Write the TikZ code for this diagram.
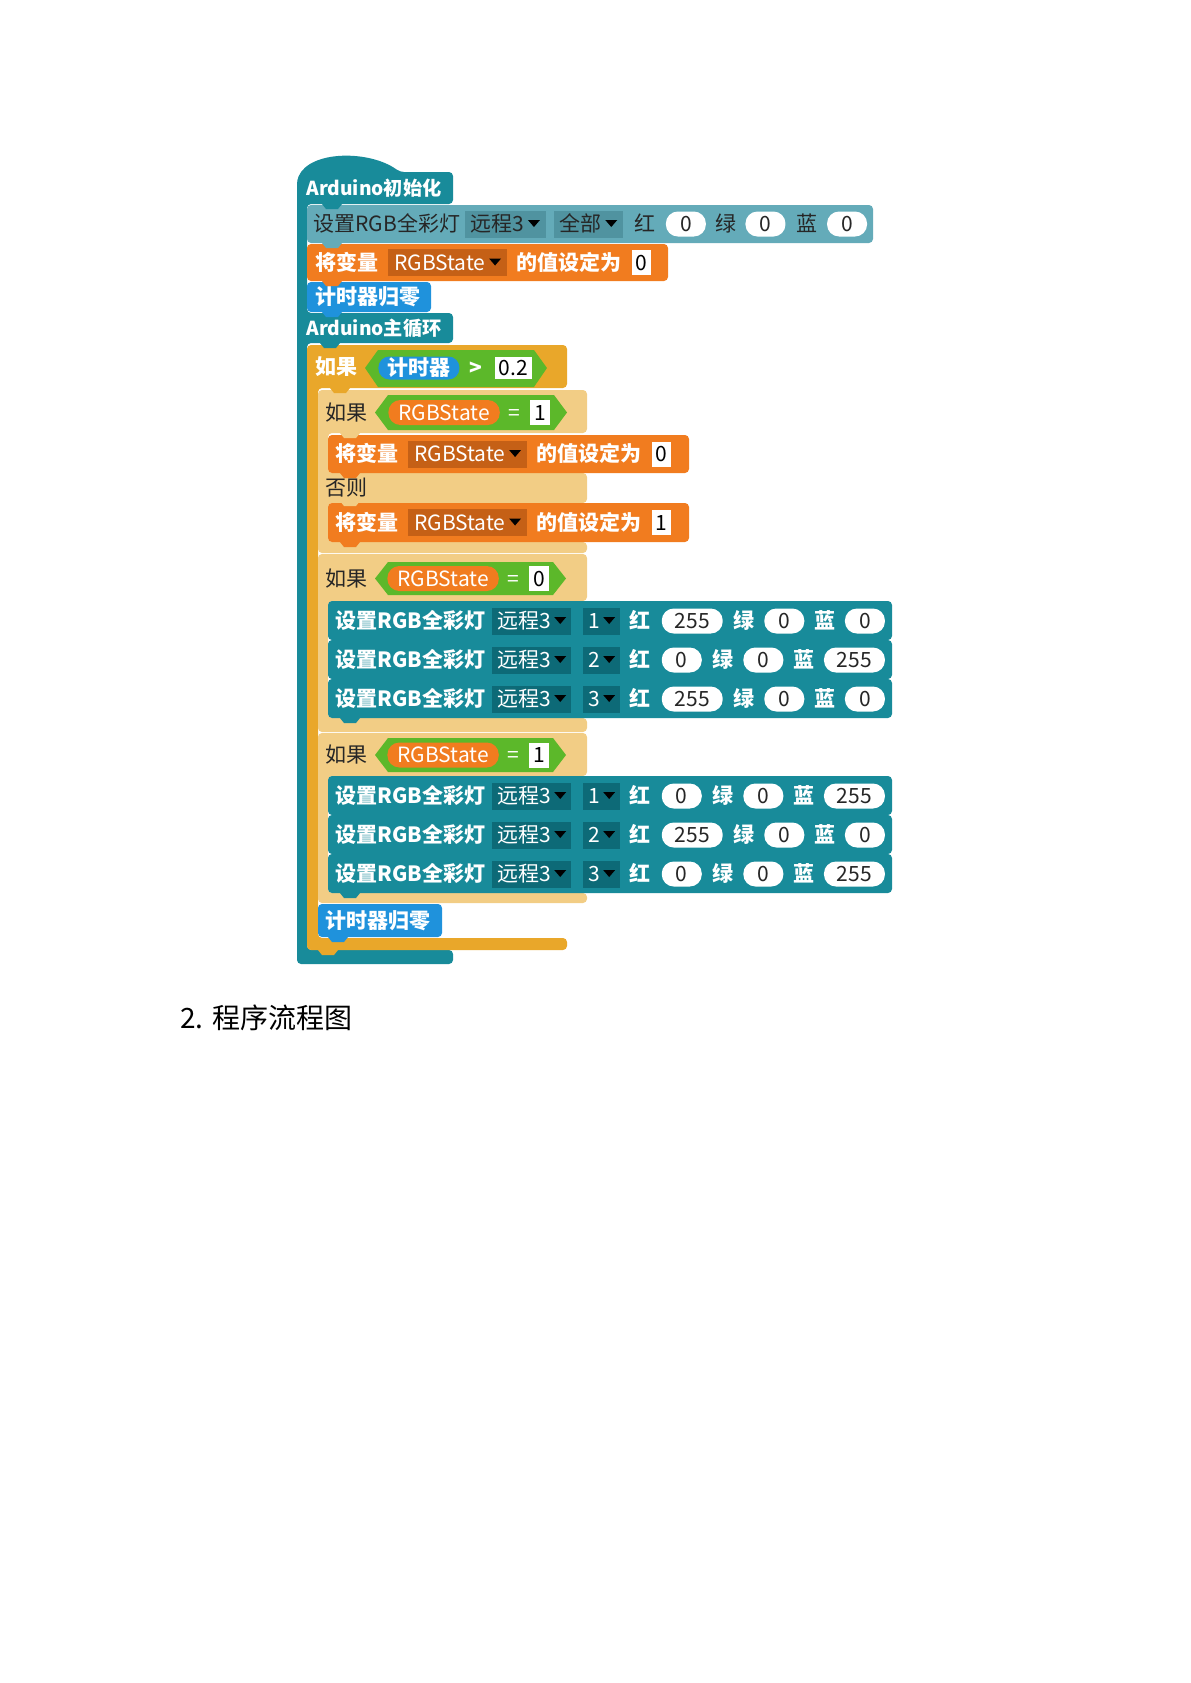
\documentclass[tikz,border=0pt]{standalone}
\usepackage{fontspec}
\setmainfont{Noto Sans CJK SC}
\usetikzlibrary{positioning}

\definecolor{tealmain}{RGB}{24,139,154}
\definecolor{teallight}{RGB}{100,171,185}
\definecolor{tealdd}{RGB}{80,147,160}
\definecolor{tealdark}{RGB}{13,106,119}
\definecolor{orangeblk}{RGB}{241,124,31}
\definecolor{orangedd}{RGB}{197,96,22}
\definecolor{blueblk}{RGB}{31,146,220}
\definecolor{ifouter}{RGB}{233,167,42}
\definecolor{ifinner}{RGB}{242,205,133}
\definecolor{cmpgreen}{RGB}{92,184,42}
\definecolor{inkdark}{RGB}{38,38,38}

\tikzset{
  txt/.style={inner sep=0pt, anchor=west, text height=0.88em, text depth=0.12em, font=\fontsize{10.5}{12}\selectfont},
  wtxt/.style={txt, text=white, font=\fontsize{10.5}{12}\selectfont\bfseries},
  hattxt/.style={wtxt, font=\fontsize{9.6}{12}\selectfont\bfseries},
  dtxt/.style={txt, text=inkdark},
  pill/.style={txt, fill=white, text=inkdark, rounded corners=6pt, minimum height=12.5pt, minimum width=20pt, inner xsep=6.5pt},
  varpill/.style={pill, fill=orangeblk, text=white, inner xsep=5pt},
  timepill/.style={pill, fill=blueblk, text=white, font=\fontsize{10.5}{12}\selectfont\bfseries, minimum height=11.5pt, rounded corners=5.5pt, inner xsep=4.5pt},
  dd/.style={txt, minimum height=13.5pt, inner xsep=3pt},
  nbox/.style={txt, fill=white, text=black, minimum height=12.5pt, inner xsep=2pt},
  blk/.style={rounded corners=2pt},
}

% dropdown arrow
\newcommand{\tri}{\tikz[baseline=0pt]\fill[black] (0pt,5.8pt) -- (6pt,5.8pt) -- (3pt,2.3pt) -- cycle;}
% connection tab under a block
\newcommand{\tab}[3]{\fill[#1] (#2,#3) -- (#2+20,#3) -- (#2+16,#3+5) -- (#2+4,#3+5) -- cycle;}
% one "set RGB" row: name, centre y, led, red, green, blue
\newcommand{\rgbrow}[6]{%
  \fill[tealmain, blk] (328,#2-20) rectangle (892,#2+19);
  \node[wtxt] (#1) at (335,#2) {设置RGB全彩灯};
  \node[dd, fill=tealdark, text=white, inner xsep=2.5pt, right=3pt of #1] (#1port) {远程3\,\tri};
  \node[dd, fill=tealdark, text=white, inner xsep=2.5pt, right=5.5pt of #1port] (#1led) {#3\,\tri};
  \node[wtxt, right=of #1led] (#1r) {红};
  \node[pill, right=5pt of #1r] (#1rv) {#4};
  \node[wtxt, right=5pt of #1rv] (#1g) {绿};
  \node[pill, right=of #1g] (#1gv) {#5};
  \node[wtxt, right=of #1gv] (#1b) {蓝};
  \node[pill, right=of #1b] (#1bv) {#6};
}

\begin{document}
\begin{tikzpicture}[x=0.5pt, y=-0.5pt, node distance=4.5pt]
\useasboundingbox (0,0) rectangle (1190,1683);

% main block with setup and loop
\fill[tealmain, blk] (297,180) .. controls (310,150) and (370,150) .. (400,172) -- (453,172) -- (453,204) -- (307,204) -- (307,313) -- (453,313) -- (453,343) -- (307,343) -- (307,950) -- (453,950) -- (453,964) -- (297,964) -- cycle;
\node[hattxt] (setup) at (306,188) {Arduino初始化};
\node[hattxt] (loop) at (306,328) {Arduino主循环};

% setup part
\fill[teallight, blk] (307,205) rectangle (873,243);
\node[dtxt] (initrgb) at (313,224) {设置RGB全彩灯};
\node[dd, fill=tealdd, text=inkdark, right=2pt of initrgb] (initport) {远程3\,\tri};
\node[dd, fill=tealdd, text=inkdark, right=3.5pt of initport] (initled) {全部\,\tri};
\node[dtxt, right=5pt of initled] (initr) {红};
\node[pill, right=5pt of initr] (initrv) {0};
\node[dtxt, right=4.5pt of initrv] (initg) {绿};
\node[pill, right=4pt of initg] (initgv) {0};
\node[dtxt, right=5pt of initgv] (initb) {蓝};
\node[pill, right=4.5pt of initb] (initbv) {0};
\tab{tealmain}{322}{204}

\fill[orangeblk, blk] (307,244) rectangle (668,281);
\node[wtxt] (initvar) at (315,262.5) {将变量};
\node[dd, fill=orangedd, text=white, right=of initvar] (initvardd) {RGBState\,\tri};
\node[wtxt, right=of initvardd] (initvarto) {的值设定为};
\node[nbox, right=of initvarto] (initvarv) {0};
\tab{teallight}{322}{243}

\fill[blueblk, blk] (307,282) rectangle (431,312);
\node[wtxt] (initreset) at (315,297) {计时器归零};
\tab{orangeblk}{322}{281}
\tab{blueblk}{322}{312}

% loop: if timer > 0.2
\fill[ifouter, blk] (307,345) -- (567,345) -- (567,388) -- (318,388) -- (318,938) -- (567,938) -- (567,950) -- (307,950) -- cycle;
\tab{tealmain}{320}{343}
\node[wtxt] (iftime) at (315,367) {如果};
\fill[cmpgreen] (365,368) -- (378,350) -- (534,350) -- (547,368) -- (534,387) -- (378,387) -- cycle;
\node[timepill] (timer) at (378,368) {计时器};
\node[wtxt, right=of timer] (gt) {>};
\node[nbox, minimum height=11pt, right=6pt of gt] (limit) {0.2};

% if RGBState = 1 ... else
\fill[ifinner, blk] (318,390) -- (587,390) -- (587,433) -- (328,433) -- (328,473) -- (587,473) -- (587,503) -- (328,503) -- (328,542) -- (587,542) -- (587,553) -- (318,553) -- cycle;
\tab{ifouter}{330}{388}
\node[dtxt] (iftoggle) at (325,413) {如果};
\fill[cmpgreen] (375,412.5) -- (388,395) -- (554,395) -- (567,412.5) -- (554,430) -- (388,430) -- cycle;
\node[varpill] (togglevar) at (388,412.5) {RGBState};
\node[txt, text=white, right=4pt of togglevar] (toggleeq) {=};
\node[nbox, right=4.5pt of toggleeq] (togglev) {1};

\fill[orangeblk, blk] (328,435) rectangle (689,473);
\node[wtxt] (seta) at (335,454) {将变量};
\node[dd, fill=orangedd, text=white, right=of seta] (setadd) {RGBState\,\tri};
\node[wtxt, right=of setadd] (setato) {的值设定为};
\node[nbox, right=of setato] (setav) {0};
\tab{ifinner}{340}{433}
\tab{orangeblk}{340}{473}

\node[dtxt] (else) at (325,488) {否则};

\fill[orangeblk, blk] (328,503) rectangle (689,542);
\node[wtxt] (setb) at (335,522.5) {将变量};
\node[dd, fill=orangedd, text=white, right=of setb] (setbdd) {RGBState\,\tri};
\node[wtxt, right=of setbdd] (setbto) {的值设定为};
\node[nbox, right=of setbto] (setbv) {1};
\tab{ifinner}{340}{501}
\tab{orangeblk}{340}{542}

% if RGBState = 0
\fill[ifinner, blk] (318,554) -- (587,554) -- (587,601) -- (328,601) -- (328,718) -- (587,718) -- (587,732) -- (318,732) -- cycle;
\node[dtxt] (ifzero) at (325,578.5) {如果};
\fill[cmpgreen] (375,578.5) -- (388,562) -- (553,562) -- (566,578.5) -- (553,595) -- (388,595) -- cycle;
\node[varpill] (zerovar) at (387,578.5) {RGBState};
\node[txt, text=white, right=4pt of zerovar] (zeroeq) {=};
\node[nbox, right=4.5pt of zeroeq] (zerov) {0};
\rgbrow{rowa}{621}{1}{255}{0}{0}
\rgbrow{rowb}{660}{2}{0}{0}{255}
\rgbrow{rowc}{699}{3}{255}{0}{0}
\tab{tealmain}{340}{718}

% if RGBState = 1
\fill[ifinner, blk] (318,733) -- (587,733) -- (587,776) -- (328,776) -- (328,893) -- (587,893) -- (587,903) -- (318,903) -- cycle;
\node[dtxt] (ifone) at (325,755) {如果};
\fill[cmpgreen] (375,755) -- (388,738) -- (553,738) -- (566,755) -- (553,772) -- (388,772) -- cycle;
\node[varpill] (onevar) at (387,755) {RGBState};
\node[txt, text=white, right=4pt of onevar] (oneeq) {=};
\node[nbox, right=4.5pt of oneeq] (onev) {1};
\rgbrow{rowd}{796}{1}{0}{0}{255}
\rgbrow{rowe}{835}{2}{255}{0}{0}
\rgbrow{rowf}{874}{3}{0}{0}{255}
\tab{tealmain}{340}{893}

\fill[blueblk, blk] (318,904) rectangle (442,937);
\node[wtxt] (loopreset) at (325,920.5) {计时器归零};
\tab{blueblk}{328}{937}
\tab{ifouter}{318}{950}

\node[txt, font=\fontsize{14}{16}\selectfont, text=black] (caption) at (180,1021) {2.\hspace{4.5pt}程序流程图};
\end{tikzpicture}
\end{document}
